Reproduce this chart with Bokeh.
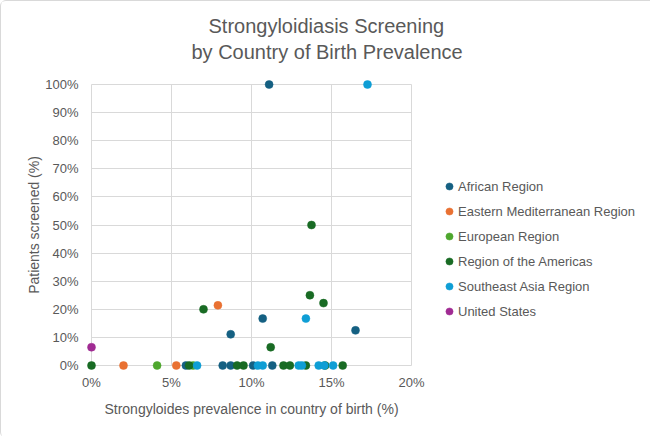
from bokeh.plotting import figure
from bokeh.models import Legend, LegendItem, FixedTicker, PrintfTickFormatter, Title, Range1d
from bokeh.embed import file_html
from bokeh.resources import INLINE

# Data: x = Strongyloides prevalence in country of birth (%), y = patients screened (%)
african_x = [5.9, 8.2, 8.7, 10.1, 11.3, 8.7, 10.7, 11.1, 16.5]
african_y = [0, 0, 0, 0, 0, 11.1, 16.7, 100, 12.5]

eastmed_x = [2.0, 5.3, 7.9]
eastmed_y = [0, 0, 21.4]

european_x = [4.1, 6.35]
european_y = [0, 0]

americas_x = [0.0, 6.1, 9.1, 9.5, 12.0, 12.4, 13.4, 14.6, 15.7, 7.0, 11.2, 13.75, 13.65, 14.5]
americas_y = [0, 0, 0, 0, 0, 0, 0, 0, 0, 20.0, 6.5, 50.0, 25.0, 22.2]

seasia_x = [6.6, 10.4, 10.7, 12.95, 13.15, 14.2, 14.55, 15.1, 13.4, 17.25]
seasia_y = [0, 0, 0, 0, 0, 0, 0, 0, 16.7, 100]

us_x = [0.0]
us_y = [6.5]

series_names = ["African Region", "Eastern Mediterranean Region", "European Region",
                "Region of the Americas", "Southeast Asia Region", "United States"]
series_colors = ["#156082", "#E97132", "#4EA72E", "#196B24", "#0F9ED5", "#A02B93"]
x_ticks = [0, 5, 10, 15, 20]
y_ticks = [0, 10, 20, 30, 40, 50, 60, 70, 80, 90, 100]
title_line1 = "Strongyloidiasis Screening"
title_line2 = "by Country of Birth Prevalence"

FONT = "Liberation Sans"
GREY = "#595959"

p = figure(frame_width=330, frame_height=291,
           x_range=Range1d(-0.3125, 20.3125), y_range=Range1d(-1.78, 101.78),
           min_border_left=85, min_border_right=235, min_border_top=78, min_border_bottom=67,
           output_backend="svg", toolbar_location=None)
p.outline_line_color = None
p.background_fill_color = "white"
p.border_fill_color = "white"

# Title: spacer closest to the frame, then the two lines
spacer = Title(text="\u00a0", text_font_size="10px", text_font=FONT, standoff=4, align="left")
t2 = Title(text=title_line2, align="left", offset=105, standoff=0,
           text_font_size="20px", text_font=FONT, text_font_style="normal", text_color=GREY)
t1 = Title(text=title_line1, align="left", offset=122, standoff=4,
           text_font_size="20px", text_font=FONT, text_font_style="normal", text_color=GREY)
p.add_layout(spacer, "above")
p.add_layout(t2, "above")
p.add_layout(t1, "above")

# Axes
for ax in (p.xaxis[0], p.yaxis[0]):
    ax.axis_line_color = None
    ax.major_tick_line_color = None
    ax.minor_tick_line_color = None
    ax.major_tick_out = 0
    ax.major_tick_in = 0
    ax.minor_tick_out = 0
    ax.minor_tick_in = 0
    ax.major_label_text_font = FONT
    ax.major_label_text_font_size = "13px"
    ax.major_label_text_color = GREY
    ax.axis_label_text_font = FONT
    ax.axis_label_text_font_size = "14px"
    ax.axis_label_text_font_style = "normal"
    ax.axis_label_text_color = GREY
    ax.formatter = PrintfTickFormatter(format="%d%%")

p.xaxis.ticker = FixedTicker(ticks=x_ticks)
p.yaxis.ticker = FixedTicker(ticks=y_ticks)
p.xaxis.axis_label = "Strongyloides prevalence in country of birth (%)"
p.yaxis.axis_label = "Patients screened (%)"
p.xaxis.major_label_standoff = 4
p.xaxis.axis_label_standoff = 8
p.yaxis.major_label_standoff = 8
p.yaxis.axis_label_standoff = 0

# Grid
p.xgrid.ticker = FixedTicker(ticks=x_ticks)
p.ygrid.ticker = FixedTicker(ticks=y_ticks)
p.grid.grid_line_color = "#d9d9d9"
p.grid.grid_line_width = 1
xg = p.xgrid[0]
yg = p.ygrid[0]
if "cross_bounds" in xg.properties():
    xg.cross_bounds = (0, 100)
    yg.cross_bounds = (0, 20)

data = [(african_x, african_y), (eastmed_x, eastmed_y), (european_x, european_y),
        (americas_x, americas_y), (seasia_x, seasia_y), (us_x, us_y)]

items = []
for (xs, ys), name, col in zip(data, series_names, series_colors):
    r = p.scatter(xs, ys, size=8, fill_color=col, line_color=col, line_width=0.5)
    items.append(LegendItem(label=name, renderers=[r]))

legend = Legend(items=items, location=(24, 49), margin=0, padding=0,
                spacing=5, glyph_width=18, glyph_height=18, label_height=20,
                label_standoff=-2, label_text_font=FONT, label_text_font_size="13px",
                label_text_color=GREY, background_fill_alpha=0, border_line_color=None)
p.add_layout(legend, "right")

p.styles = {"border": "1px solid #d9d9d9", "border-radius": "6px"}

open("out.html", "w").write(file_html(p, INLINE))
